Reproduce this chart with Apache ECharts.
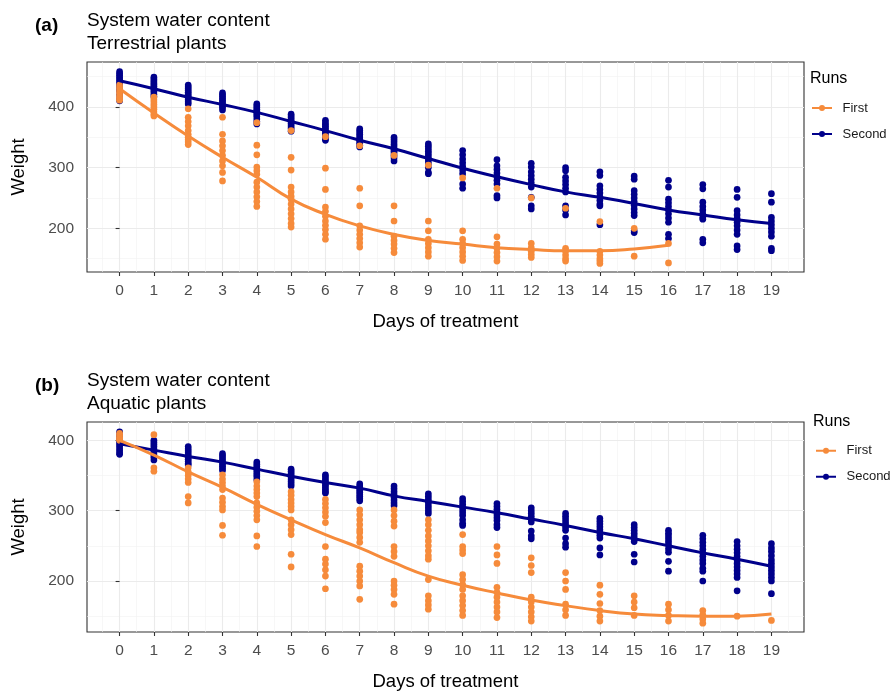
<!DOCTYPE html>
<html>
<head>
<meta charset="utf-8">
<script src="https://cdn.jsdelivr.net/npm/echarts@6/dist/echarts.min.js"></script>
<style>html,body{margin:0;padding:0;background:#fff;}#c{width:891px;height:694px;}</style>
</head>
<body>
<div id="c"></div>
<script>
// ---------- data ----------
const days = [0,1,2,3,4,5,6,7,8,9,10,11,12,13,14,15,16,17,18,19];
const yTicks = [200, 300, 400];
const xMinor = [-0.5,0.5,1.5,2.5,3.5,4.5,5.5,6.5,7.5,8.5,9.5,10.5,11.5,12.5,13.5,14.5,15.5,16.5,17.5,18.5,19.5];
const yMinorA = [150, 250, 350, 450];
const yMinorB = [150, 250, 350];

// Panel (a) Terrestrial plants: weights per day
const aSecond = [
  [458,455,452,449,446,443,440,437,434,430,426,420,414,410],
  [449,446,443,440,437,434,431,428,425,421,417],
  [436,433,430,427,424,421,418,415,412,408,405],
  [423,420,417,414,411,408,405,402,399,395],
  [405,402,399,396,393,390,387,384,380,376,372],
  [388,385,382,379,376,373,370,367,364,360],
  [378,374,371,368,365,362,359,356,352,348,345],
  [364,361,358,355,352,349,346,343,340,337,334],
  [350,346,342,338,334,330,327,324,320,316,311],
  [339,335,331,327,323,319,315,311,306,300,292,290],
  [328,321,314,308,302,296,290,273,266],
  [313,303,297,291,285,279,273,254,250],
  [307,301,293,287,281,275,268,251,237,232],
  [300,295,284,278,272,266,260,237,230,222],
  [293,287,270,264,258,252,246,240,237,206],
  [286,281,262,256,250,244,238,232,226,221,196,193],
  [279,268,248,242,236,230,224,217,210,190,183],
  [272,265,243,236,230,224,218,215,182,176],
  [264,251,229,222,216,210,204,197,190,171,165],
  [257,243,218,212,206,200,194,187,167,163]
];
const aFirst = [
  [436,432,428,424,420,416,413,411],
  [416,412,408,404,400,396,392,388,385],
  [397,383,376,369,361,355,350,346,342,338],
  [383,355,344,336,328,320,311,303,292,278],
  [374,337,321,301,295,289,276,268,260,252,244,236],
  [361,317,296,268,260,253,248,240,232,224,216,208,202],
  [351,299,264,235,228,220,212,205,198,190,182],
  [336,266,237,204,197,190,183,176,169],
  [320,237,212,187,180,174,167,160],
  [304,212,196,182,175,168,161,154],
  [283,196,182,175,168,161,154,147],
  [266,186,174,167,160,153,146],
  [250,175,168,162,157,152],
  [233,167,162,156,150,146],
  [211,162,156,150,146,142],
  [200,154],
  [175,143]
];
const aSecondFit = [443,430,416,404,391,376,361,345,331,315,299,285,272,260,251,241,230,222,214,208];
const aFirstFit  = [430,390,352,317,284,248,223,204,190,180,174,168,165,163,163,166,172];

// Panel (b) Aquatic plants: weights per day
const bSecond = [
  [412,409,406,403,400,397,394,391,388,385,382,380],
  [400,397,394,391,388,385,382,379,376,372],
  [391,388,385,382,379,376,373,370,367,365],
  [381,378,375,372,369,366,363,360,357],
  [369,366,363,360,357,354,351,348,344],
  [359,356,353,350,347,344,341,338,335],
  [351,348,345,342,339,336,333,330,327,325],
  [338,335,332,329,326,323,320,317,314],
  [335,331,327,323,319,315,311,307],
  [324,320,316,312,308,304,300,296],
  [317,313,309,305,301,297,293,287,282,279],
  [310,306,302,298,294,290,286,280,276],
  [304,300,296,292,288,284,271,264,260],
  [296,292,288,284,280,276,272,261,253,248],
  [289,285,281,277,273,269,265,261,247,237],
  [280,276,272,268,264,260,256,238,227],
  [272,268,264,260,256,252,246,241,228,214],
  [265,260,255,250,245,240,235,230,225,218,214,200],
  [256,250,245,240,235,230,225,220,215,210,205,186],
  [253,247,242,236,230,225,220,215,210,205,200,182]
];
const bFirst = [
  [410,407,404,402,400],
  [408,361,356],
  [361,355,350,345,340,320,311],
  [351,345,340,335,330,318,312,306,301,279,265],
  [341,335,330,325,320,311,305,299,293,287,264,249],
  [327,322,316,311,306,301,287,280,273,266,238,220],
  [316,310,304,298,292,283,249,231,224,216,207,189],
  [301,294,287,280,273,269,262,255,221,214,207,200,193,174],
  [301,293,285,278,249,242,235,200,194,188,181,167],
  [287,280,272,264,257,250,243,236,231,202,179,172,166,160],
  [266,249,244,239,209,202,195,188,179,172,165,158,151],
  [249,237,225,191,184,177,170,163,156,148],
  [233,222,212,177,170,163,156,149,143],
  [212,200,188,167,159,151],
  [194,181,168,158,150,143],
  [179,170,162,151],
  [167,159,151,143],
  [158,152,146,140],
  [150],
  [144]
];
const bSecondFit = [395,386,377,369,359,349,340,332,321,313,305,297,288,279,269,260,250,240,231,221];
const bFirstFit  = [400,379,355,333,309,287,266,247,226,207,194,183,173,165,158,153,151,150,150,153];

// ---------- styling ----------
const ORANGE = '#F68B3B';
const NAVY = '#00008B';
const FONT = '"Liberation Sans", Arial, sans-serif';

function pts(groups){ const out=[]; groups.forEach((g,i)=>g.forEach(v=>out.push([days[i], v]))); return out; }
function fit(arr){ return arr.map((v,i)=>[days[i], v]); }

function gridLines(gi, yMinor){
  const minorStyle = {color:'#F2F2F2', width:0.6, type:'solid'};
  const majorStyle = {color:'#EBEBEB', width:1.1, type:'solid'};
  const d = [];
  xMinor.forEach(v=>d.push({xAxis:v, lineStyle:minorStyle}));
  yMinor.forEach(v=>d.push({yAxis:v, lineStyle:minorStyle}));
  days.forEach(v=>d.push({xAxis:v, lineStyle:majorStyle}));
  yTicks.forEach(v=>d.push({yAxis:v, lineStyle:majorStyle}));
  return {
    type:'line', name:'grid'+gi, xAxisIndex:gi, yAxisIndex:gi, data:[], silent:true, z:0,
    markLine:{z:0, silent:true, symbol:['none','none'], label:{show:false}, animation:false, data:d}
  };
}

function xAxisCfg(gi){
  return {
    gridIndex:gi, type:'value', min:-0.95, max:19.95,
    axisLine:{show:false},
    axisTick:{show:true, length:4, customValues:days, lineStyle:{color:'#333333', width:1.1}},
    axisLabel:{show:true, customValues:days, margin:11, fontSize:15.5, color:'#4D4D4D', fontFamily:FONT},
    splitLine:{show:false},
    name:'Days of treatment', nameLocation:'middle', nameGap:40,
    nameTextStyle:{fontSize:18.5, color:'#000', fontFamily:FONT}
  };
}
function yAxisCfg(gi, mn, mx){
  return {
    gridIndex:gi, type:'value', min:mn, max:mx,
    axisLine:{show:false},
    axisTick:{show:true, length:4, customValues:yTicks, lineStyle:{color:'#333333', width:1.1}},
    axisLabel:{show:true, customValues:yTicks, margin:13, fontSize:15.5, color:'#4D4D4D', fontFamily:FONT},
    splitLine:{show:false},
    name:'Weight', nameLocation:'middle', nameGap:59, nameRotate:90,
    nameTextStyle:{fontSize:18.5, color:'#000', fontFamily:FONT}
  };
}
function scatter(gi, name, data, color){
  return {type:'scatter', name, xAxisIndex:gi, yAxisIndex:gi, data, symbol:'circle', symbolSize:6.7,
    itemStyle:{color, opacity:1, borderWidth:0, borderColor:color, shadowBlur:0},
    emphasis:{disabled:true}, z:3, silent:true, large:false};
}
function line(gi, name, data, color){
  return {type:'line', name, xAxisIndex:gi, yAxisIndex:gi, data, smooth:true, showSymbol:false,
    symbol:'none', lineStyle:{color, width:3}, itemStyle:{color}, z:4, silent:true};
}

const ICON = 'path://M0,3 h20 v2 h-20 Z M13,4 a3,3 0 1 1 -6,0 a3,3 0 1 1 6,0 Z';
function legendCfg(left, top){
  return {
    left, top, orient:'vertical', padding:0, itemGap:12, itemWidth:21, itemHeight:6,
    icon:ICON, selectedMode:false, data:['First','Second'],
    itemStyle:{borderWidth:0},
    textStyle:{fontSize:13, color:'#1A1A1A', fontFamily:FONT, lineHeight:14, padding:[0,0,0,5]}
  };
}

const option = {
  animation:false,
  backgroundColor:'#fff',
  title:[
    {text:'(a)', left:35, top:15, padding:0, textStyle:{fontSize:19, fontWeight:'bold', color:'#000', fontFamily:FONT, lineHeight:22}},
    {text:'System water content\nTerrestrial plants', left:87, top:9.5, padding:0, textStyle:{fontSize:19, fontWeight:'normal', color:'#000', fontFamily:FONT, lineHeight:23}},
    {text:'Runs', left:810, top:70, padding:0, textStyle:{fontSize:16, fontWeight:'normal', color:'#000', fontFamily:FONT, lineHeight:18}},
    {text:'(b)', left:35, top:375, padding:0, textStyle:{fontSize:19, fontWeight:'bold', color:'#000', fontFamily:FONT, lineHeight:22}},
    {text:'System water content\nAquatic plants', left:87, top:369.5, padding:0, textStyle:{fontSize:19, fontWeight:'normal', color:'#000', fontFamily:FONT, lineHeight:23}},
    {text:'Runs', left:813, top:412.5, padding:0, textStyle:{fontSize:16, fontWeight:'normal', color:'#000', fontFamily:FONT, lineHeight:18}}
  ],
  legend:[legendCfg(812, 101), legendCfg(816, 443.7)],
  grid:[
    {left:87, top:62, width:717, height:210, show:true, borderColor:'#333333', borderWidth:1.1, backgroundColor:'transparent', containLabel:false},
    {left:87, top:422, width:717, height:210, show:true, borderColor:'#333333', borderWidth:1.1, backgroundColor:'transparent', containLabel:false}
  ],
  xAxis:[xAxisCfg(0), xAxisCfg(1)],
  yAxis:[yAxisCfg(0, 128, 474), yAxisCfg(1, 127.5, 426)],
  series:[
    gridLines(0, yMinorA),
    gridLines(1, yMinorB),
    scatter(0, 'Second', pts(aSecond), NAVY),
    scatter(0, 'First', pts(aFirst), ORANGE),
    line(0, 'Second', fit(aSecondFit), NAVY),
    line(0, 'First', fit(aFirstFit), ORANGE),
    scatter(1, 'Second', pts(bSecond), NAVY),
    scatter(1, 'First', pts(bFirst), ORANGE),
    line(1, 'Second', fit(bSecondFit), NAVY),
    line(1, 'First', fit(bFirstFit), ORANGE)
  ]
};
const chart = echarts.init(document.getElementById('c'), null, {renderer:'canvas'});
chart.setOption(option);
</script>
</body>
</html>
